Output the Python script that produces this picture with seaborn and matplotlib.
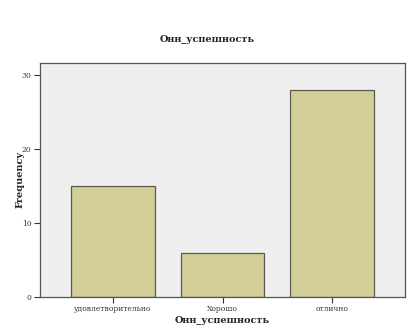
import numpy as np
import pandas as pd
import matplotlib
matplotlib.use("Agg")
import matplotlib.pyplot as plt
import seaborn as sns

categories = ["удовлетворительно", "Хорошо", "отлично"]
counts = [15, 6, 28]

df = pd.DataFrame({"cat": categories, "n": counts})

sns.set_style("white")
plt.rcParams["font.family"] = ["DejaVu Serif"]

fig = plt.figure(figsize=(4.15, 3.32), dpi=100)
ax = fig.add_axes([40 / 415, 1 - 297 / 332, 365 / 415, 234 / 332])
ax.set_facecolor("#efefef")

sns.barplot(data=df, x="cat", y="n", ax=ax, color="#d3ce97",
            saturation=1, width=0.76, edgecolor="#5a5a50", linewidth=0.9)

ax.set_xlim(-0.667, 2.667)
ax.set_ylim(0, 31.6)
ax.set_yticks([0, 10, 20, 30])
for s in ax.spines.values():
    s.set_color("#555555")
    s.set_linewidth(0.9)
ax.tick_params(axis="both", length=4, width=0.8, color="#333333",
               labelsize=5.5, labelcolor="#333333", direction="out", pad=2)
ax.tick_params(axis="x", bottom=True)
ax.tick_params(axis="y", left=True)

ax.set_xlabel("Онн_успешность", fontsize=7, fontweight="bold", labelpad=2)
ax.set_ylabel("Frequency", fontsize=7, fontweight="bold", labelpad=-2)
fig.text(207 / 415, 1 - 39 / 332, "Онн_успешность", ha="center", va="center",
         fontsize=7, fontweight="bold")

fig.savefig("out.png", dpi=100, facecolor="white")
